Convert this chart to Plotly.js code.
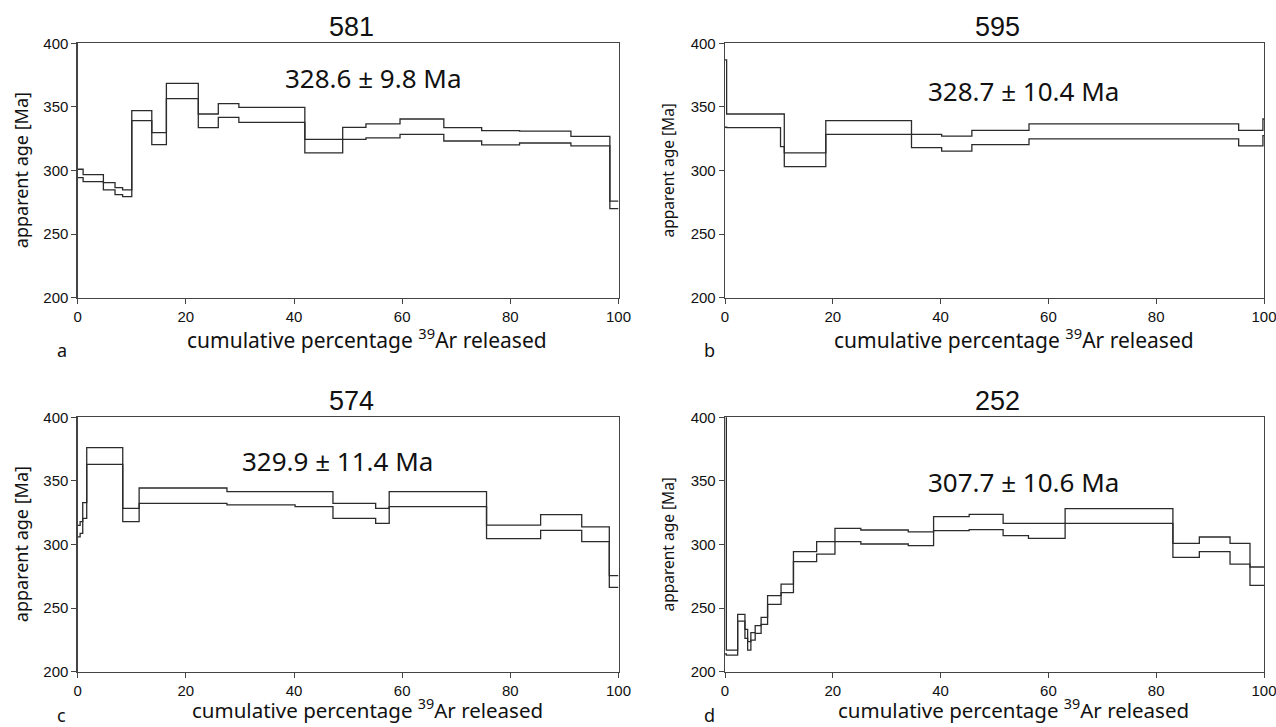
<!DOCTYPE html>
<html>
<head>
<meta charset="utf-8">
<script src="https://cdn.plot.ly/plotly-3.0.1.min.js"></script>
<style>html,body{margin:0;padding:0;background:#fff;}#chart{width:1276px;height:727px;}</style>
</head>
<body>
<div id="chart"></div>
<script>
// ---- Data: step boundaries (cumulative % 39Ar) and upper/lower apparent ages (Ma) ----
const sampleNames = ["581", "595", "574", "252"];
const plateauLabels = ["328.6 ± 9.8 Ma", "328.7 ± 10.4 Ma", "329.9 ± 11.4 Ma", "307.7 ± 10.6 Ma"];
const panelLetters = ["a", "b", "c", "d"];

// 581
const edgesA = [0, 1.0, 4.75, 6.9, 8.3, 10.0, 13.7, 16.4, 22.3, 26.0, 29.8, 42.0, 49.0, 53.3, 59.6, 67.7, 74.7, 81.7, 91.2, 98.4, 100];
const upperA = [301, 296.7, 290.4, 286.5, 284.7, 347.1, 329.8, 368.5, 344.4, 352.6, 349.7, 324.5, 333.9, 336.6, 340.5, 333.7, 331.3, 331.0, 326.9, 276];
const lowerA = [294.4, 291.2, 284.7, 281.0, 279.4, 339.2, 320.3, 356.5, 333.7, 341.8, 337.9, 313.8, 324.5, 325.6, 328.4, 323.2, 320.1, 321.6, 319.3, 270];

// 595
const edgesB = [0, 0.3, 10.3, 11.0, 18.7, 34.6, 40.2, 45.8, 56.4, 95.3, 99.8, 100];
const upperB = [387, 344.4, 344.4, 313.8, 339.2, 328.4, 327.1, 331.6, 336.6, 331.6, 340.5];
const lowerB = [334, 333.7, 318.8, 303.0, 328.4, 318.0, 315.3, 320.3, 324.8, 319.3, 327.4];

// 574
const edgesC = [0, 0.45, 0.93, 1.67, 8.33, 11.36, 27.6, 40.2, 47.2, 55.1, 57.6, 75.6, 85.6, 93.2, 98.3, 100];
const upperC = [315, 318, 332.9, 376.1, 328.4, 344.4, 341.5, 341.5, 332.4, 328.4, 341.5, 315.3, 323.5, 313.8, 275.5];
const lowerC = [306, 308.8, 320.6, 363.0, 318.0, 332.4, 331.1, 329.8, 320.6, 316.6, 329.8, 304.6, 311.1, 302.2, 266.3];

// 252
const edgesD = [0, 0.25, 2.35, 3.7, 4.2, 4.8, 5.6, 6.7, 7.9, 10.4, 12.7, 17.0, 20.4, 25.2, 34.0, 38.7, 45.3, 51.6, 56.3, 63.1, 73.3, 83.1, 88.0, 93.7, 97.4, 100];
const upperD = [420, 217, 245.1, 233.3, 223.6, 230.7, 236.2, 242.7, 259.8, 268.9, 294.4, 302.2, 312.7, 311.4, 310.0, 321.9, 323.7, 316.6, 316.6, 328.2, 328.2, 300.9, 305.9, 300.9, 282.3];
const lowerD = [214, 213.1, 239.8, 226.2, 217.0, 224.9, 230.1, 237.2, 253.0, 262.1, 286.5, 292.5, 302.2, 300.4, 299.1, 310.9, 311.7, 306.9, 304.8, 316.6, 316.6, 289.9, 294.4, 284.6, 267.9];

const xTickVals = [0, 20, 40, 60, 80, 100];
const yTickVals = [200, 250, 300, 350, 400];

// ---- Layout geometry (paper fractions) ----
const W = 1276, H = 727;
const px = v => v / W;
const py = v => 1 - v / H;
const colX = [[77.7, 618.5], [725, 1264]];
const rowY = [[43.3, 297.7], [417.3, 671.7]];

const lineColor = "#2b2b2b";
const axisColor = "#444";
const textFont = "Noto Sans, Open Sans, DejaVu Sans, sans-serif";
const tickFontFam = "Liberation Sans Narrow, Liberation Sans, Arial Narrow, sans-serif";

const panels = [
  {edges: edgesA, up: upperA, lo: lowerA, col: 0, row: 0},
  {edges: edgesB, up: upperB, lo: lowerB, col: 1, row: 0},
  {edges: edgesC, up: upperC, lo: lowerC, col: 0, row: 1},
  {edges: edgesD, up: upperD, lo: lowerD, col: 1, row: 1}
];

function stepY(vals) { return vals.concat([vals[vals.length - 1]]); }

const traces = [];
const layout = {
  width: W, height: H,
  margin: {l: 0, r: 0, t: 0, b: 0},
  paper_bgcolor: "#fff", plot_bgcolor: "#fff",
  showlegend: false,
  annotations: []
};

panels.forEach((p, i) => {
  const n = i + 1;
  const xa = n === 1 ? "x" : "x" + n;
  const ya = n === 1 ? "y" : "y" + n;
  [p.up, p.lo].forEach(vals => {
    traces.push({
      type: "scatter", mode: "lines",
      x: p.edges, y: stepY(vals),
      xaxis: xa, yaxis: ya,
      line: {shape: "hv", color: lineColor, width: 1.3},
      cliponaxis: true, hoverinfo: "skip"
    });
  });
  const cx = colX[p.col], ry = rowY[p.row];
  const axCommon = {
    showline: true, mirror: true, linecolor: axisColor, linewidth: 1.3,
    ticks: "outside", ticklen: 5, tickwidth: 1, tickcolor: axisColor,
    showgrid: false, zeroline: false, fixedrange: true, automargin: false,
    ticklabeloverflow: "allow",
    tickfont: {family: tickFontFam, size: 15, color: "#111"}
  };
  layout["xaxis" + (n === 1 ? "" : n)] = Object.assign({}, axCommon, {
    domain: [px(cx[0]), px(cx[1])], range: [0, 100], anchor: ya,
    tickvals: xTickVals, ticktext: xTickVals.map(String)
  });
  layout["yaxis" + (n === 1 ? "" : n)] = Object.assign({}, axCommon, {
    domain: [py(ry[1]), py(ry[0])], range: [200, 400], anchor: xa,
    tickvals: yTickVals, ticktext: yTickVals.map(String)
  });
  const midX = (cx[0] + cx[1]) / 2;
  const big = p.col === 0;
  // sample title
  layout.annotations.push({
    xref: "paper", yref: "paper", x: px(midX + 3), y: py(ry[0] - 16),
    text: sampleNames[i], showarrow: false, xanchor: "center", yanchor: "middle",
    font: {family: tickFontFam, size: 27, color: "#111"}
  });
  // x axis title
  layout.annotations.push({
    xref: "paper", yref: "paper", x: px(midX + 19), y: py(ry[1] + (p.row === 0 ? 41 : 37)),
    text: "cumulative percentage <sup>39</sup>Ar released", showarrow: false,
    xanchor: "center", yanchor: "middle",
    font: {family: textFont, size: p.row === 0 ? 21 : 20.5, color: "#111"}
  });
  // y axis title
  layout.annotations.push({
    xref: "paper", yref: "paper", x: px(cx[0] - (big ? 57 : 58)), y: py((ry[0] + ry[1]) / 2),
    text: "apparent age [Ma]", showarrow: false, textangle: -90,
    xanchor: "center", yanchor: "middle",
    font: {family: textFont, size: big ? 18 : 15.5, color: "#111"}
  });
  // panel letter
  layout.annotations.push({
    xref: "paper", yref: "paper", x: px(cx[0] - 16), y: py(ry[1] + (p.row === 0 ? 52 : 43)),
    text: panelLetters[i], showarrow: false, xanchor: "center", yanchor: "middle",
    font: {family: textFont, size: 18, color: "#111"}
  });
});

// plateau age labels
const plateauPos = [[373, 80], [1023, 93], [337, 463], [1023, 484]];
plateauLabels.forEach((t, i) => {
  layout.annotations.push({
    xref: "paper", yref: "paper", x: px(plateauPos[i][0]), y: py(plateauPos[i][1] - 2),
    text: t, showarrow: false, xanchor: "center", yanchor: "middle",
    font: {family: textFont, size: 26, color: "#111"}
  });
});

Plotly.newPlot("chart", traces, layout, {staticPlot: true, displayModeBar: false});
</script>
</body>
</html>
